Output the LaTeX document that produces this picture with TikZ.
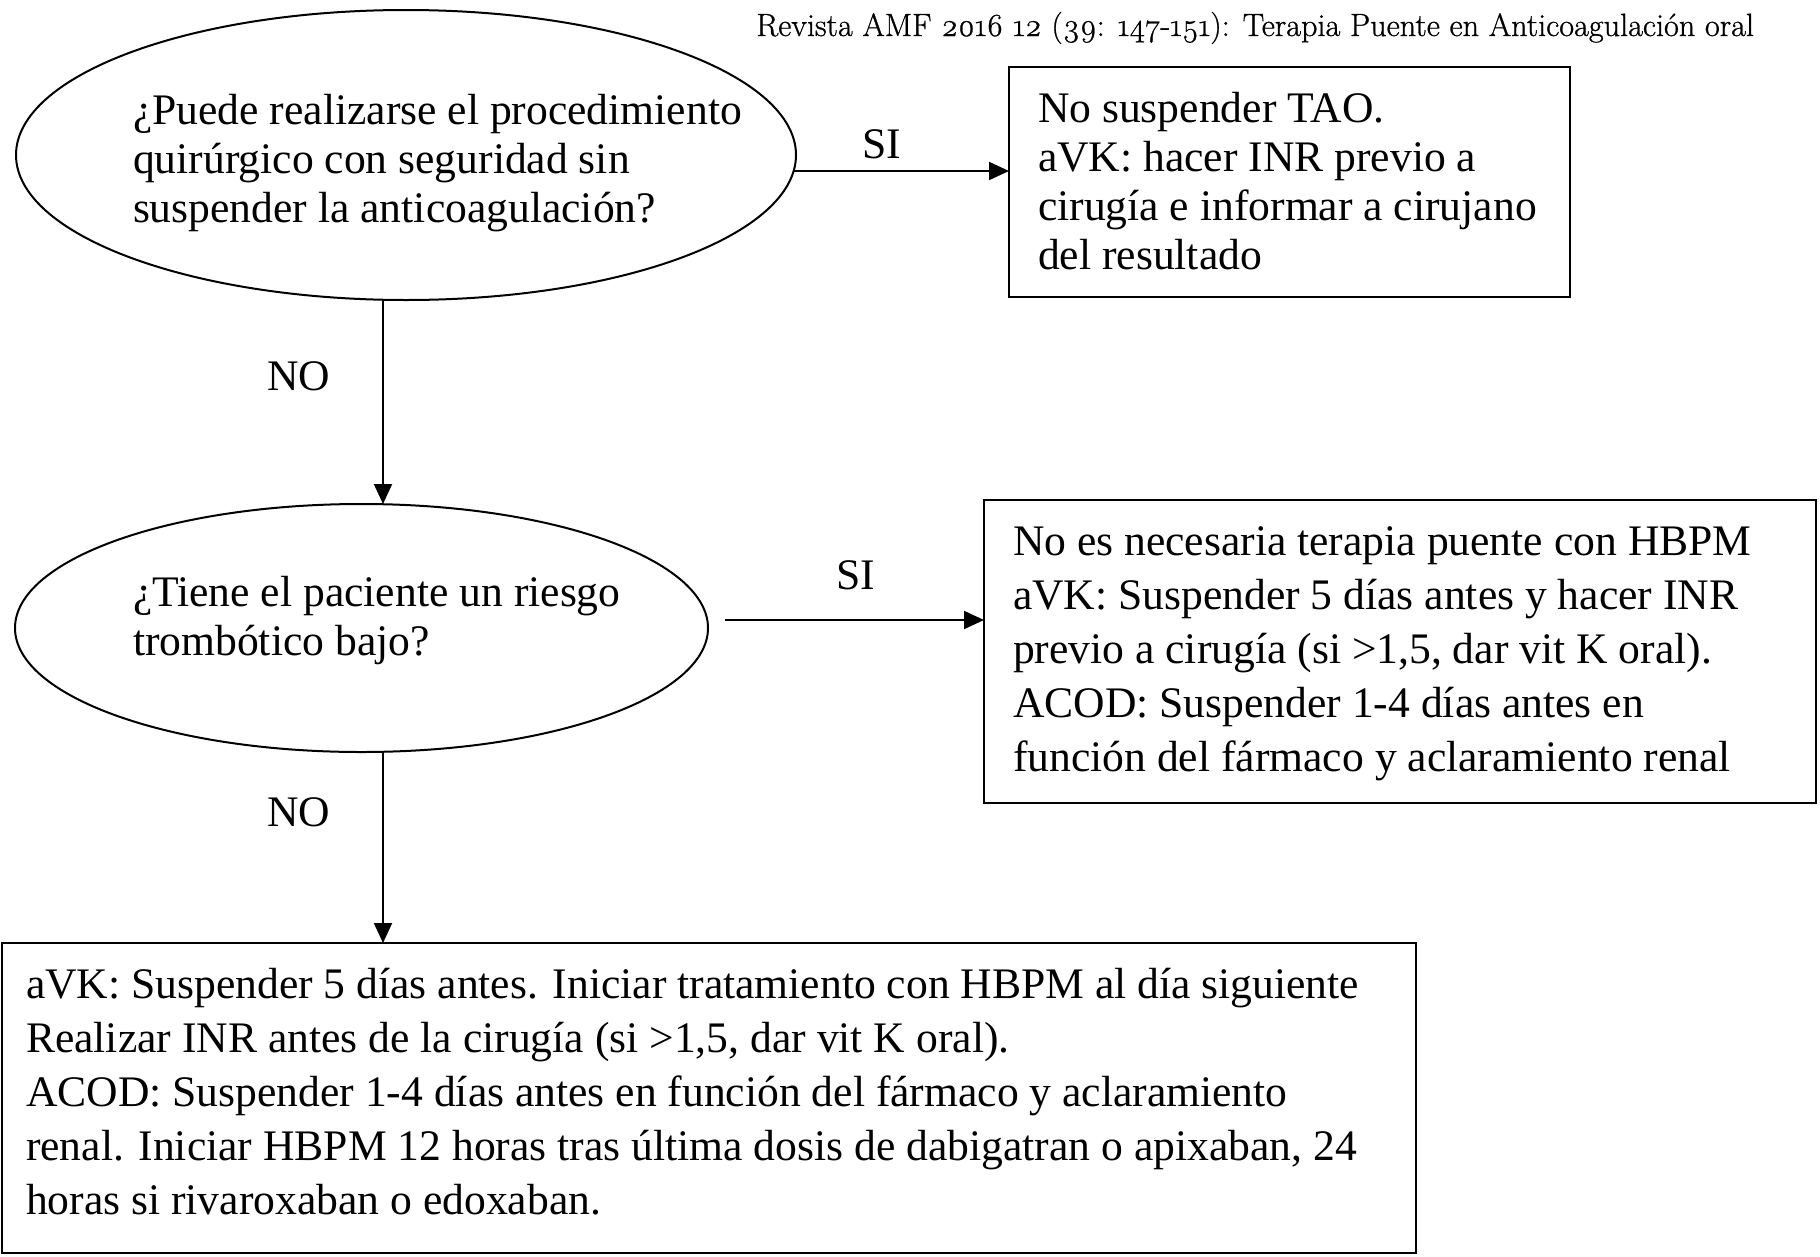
\documentclass[tikz,border=0pt]{standalone}
\usepackage{fontspec}
\setmainfont{Liberation Serif}
\newfontfamily\titlefont{Latin Modern Roman}[Numbers=OldStyle,BoldFont={Latin Modern Roman},BoldFeatures={FakeBold=0.8}]
\usetikzlibrary{shapes.geometric,arrows.meta}
\begin{document}
\begin{tikzpicture}[x=1pt,y=-1pt,
  every node/.style={inner sep=0pt, outer sep=0pt},
  shapeline/.style={draw, line width=2pt},
  qell/.style={shapeline, ellipse},
  boxed/.style={shapeline, rectangle, anchor=north west},
  txta/.style={anchor=base west, font=\fontsize{43.6}{49}\selectfont},
  txtb/.style={anchor=base west, font=\fontsize{43.6}{54}\selectfont},
  lbl/.style={anchor=base west, font=\fontsize{43.6}{49}\selectfont},
  arr/.style={line width=2pt, -{Triangle[length=20pt,width=18pt]}},
]
\useasboundingbox (0,0) rectangle (1820,1256);

% title
\node[anchor=base east, font=\titlefont\bfseries\fontsize{32.2}{38}\selectfont] (title) at (1754,36)
  {Revista AMF 2016 12 (39: 147-151): Terapia Puente en Anticoagulación oral};

% decision 1
\node[qell, minimum width=780pt, minimum height=290pt] (q1) at (406,155) {};
\node[txta] (q1t) at (133,124.5) {\begin{tabular}[t]{@{}l@{}}¿Puede realizarse el procedimiento\\quirúrgico con seguridad sin\\suspender la anticoagulación?\end{tabular}};

% box 1
\node[boxed, minimum width=561pt, minimum height=230pt] (b1) at (1009,67) {};
\node[txta] (b1t) at (1038,122) {\begin{tabular}[t]{@{}l@{}}No suspender TAO.\\aVK: hacer INR previo a\\cirugía e informar a cirujano\\del resultado\end{tabular}};

% decision 2
\node[qell, minimum width=693pt, minimum height=248pt] (q2) at (361.5,628) {};
\node[txta] (q2t) at (133,606) {\begin{tabular}[t]{@{}l@{}}¿Tiene el paciente un riesgo\\trombótico bajo?\end{tabular}};

% box 2
\node[boxed, minimum width=832pt, minimum height=303pt] (b2) at (984,500) {};
\node[txtb] (b2t) at (1013,555) {\begin{tabular}[t]{@{}l@{}}No es necesaria terapia puente con HBPM\\aVK: Suspender 5 días antes y hacer INR\\previo a cirugía (si >1,5, dar vit K oral).\\ACOD: Suspender 1-4 días antes en\\función del fármaco y aclaramiento renal\end{tabular}};

% box 3
\node[boxed, minimum width=1414pt, minimum height=310pt] (b3) at (1.5,943) {};
\node[txtb] (b3t) at (26,998) {\begin{tabular}[t]{@{}l@{}}aVK: Suspender 5 días antes. Iniciar tratamiento con HBPM al día siguiente\\Realizar INR antes de la cirugía (si >1,5, dar vit K oral).\\ACOD: Suspender 1-4 días antes en función del fármaco y aclaramiento\\renal. Iniciar HBPM 12 horas tras última dosis de dabigatran o apixaban, 24\\horas si rivaroxaban o edoxaban.\end{tabular}};

% connectors
\coordinate (v) at (383,0);
\coordinate (s1) at (794,171);
\coordinate (s2) at (725,620);
\draw[arr] (q1.south -| v) -- (q2.north -| v);
\draw[arr] (q2.south -| v) -- (b3.north -| v);
\draw[arr] (s1) -- (s1 -| b1.west);
\draw[arr] (s2) -- (s2 -| b2.west);

% labels
\node[lbl] (si1) at (862,158) {SI};
\node[lbl] (si2) at (836,589) {SI};
\node[lbl] (no1) at (267,390) {NO};
\node[lbl] (no2) at (267,826) {NO};
\end{tikzpicture}
\end{document}
